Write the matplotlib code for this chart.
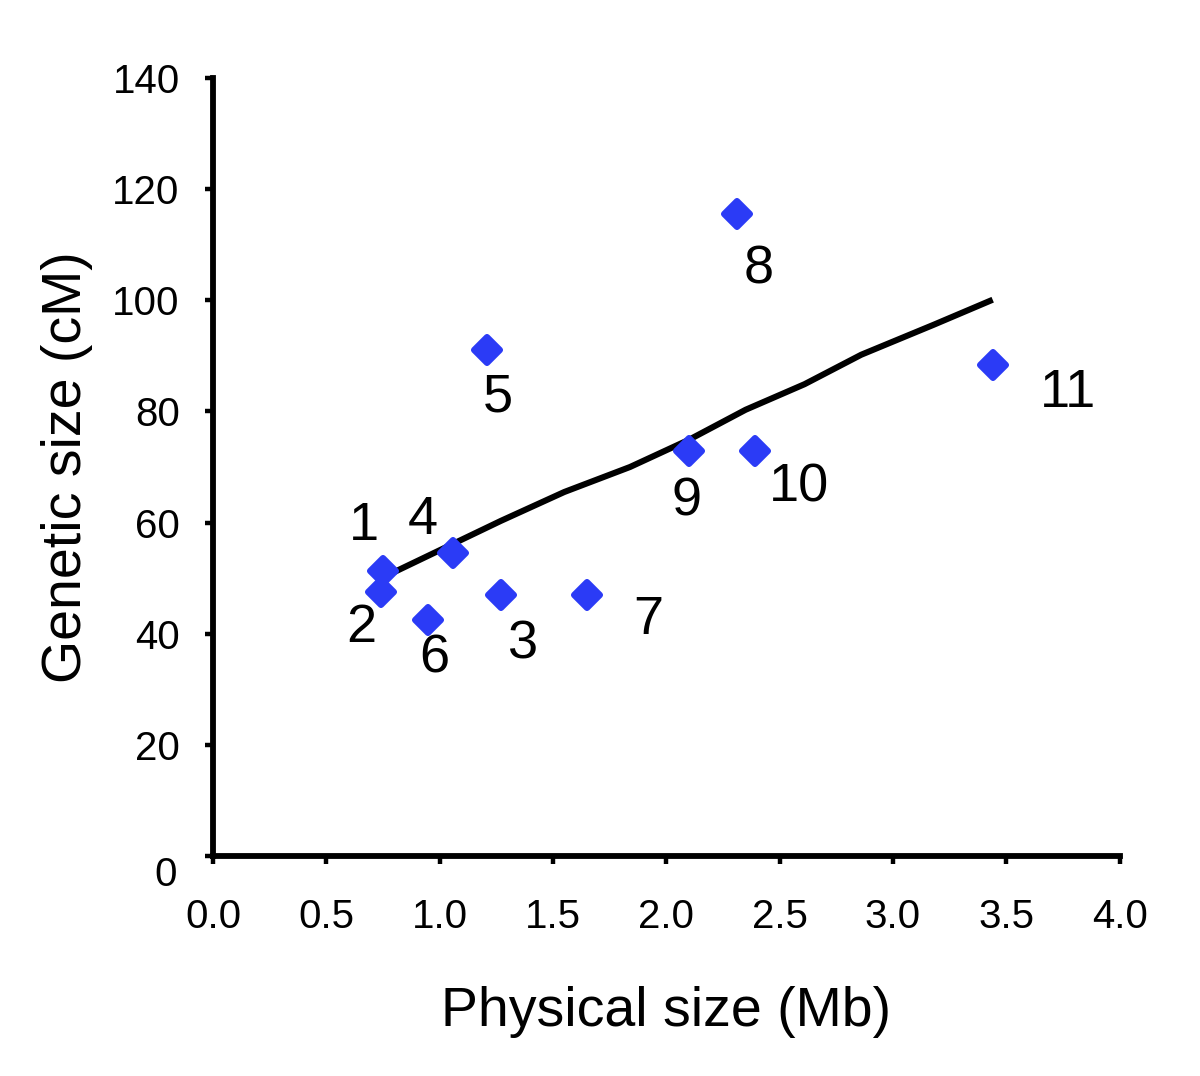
import matplotlib
matplotlib.use("Agg")
import matplotlib.pyplot as plt
from matplotlib.markers import MarkerStyle

plt.rcParams['font.family'] = ['Liberation Sans', 'DejaVu Sans']

# Data
labels = ["1", "2", "3", "4", "5", "6", "7", "8", "9", "10", "11"]
physical_mb = [0.75, 0.74, 1.27, 1.06, 1.21, 0.95, 1.65, 2.31, 2.10, 2.39, 3.44]
genetic_cm = [51.3, 47.5, 47.0, 54.5, 91.0, 42.5, 47.0, 115.5, 72.8, 72.8, 88.3]

trend_x = [0.80, 1.27, 1.55, 1.84, 2.10, 2.35, 2.61, 2.86, 3.18, 3.44]
trend_y = [51.1, 60.3, 65.5, 70.0, 74.9, 80.3, 84.9, 90.2, 95.6, 100.1]

x_ticks = [0.0, 0.5, 1.0, 1.5, 2.0, 2.5, 3.0, 3.5, 4.0]
y_ticks = [0, 20, 40, 60, 80, 100, 120, 140]

# label offsets in points (layout only)
label_offsets = [(-7, 16), (-7, -13), (8, -18), (-11, 12), (4, -17), (2, -14),
                 (22, -9), (8, -20), (-1, -18), (16, -13), (27, -10)]

fig = plt.figure(figsize=(6, 5.38), dpi=200)
ax = fig.add_axes([0.1775, 0.2045, 0.7555, 0.723])

ax.plot(trend_x, trend_y, color='black', lw=2.2, zorder=2, solid_capstyle='butt')
mk = MarkerStyle('D', joinstyle='round')
ax.plot(physical_mb, genetic_cm, linestyle='none', marker=mk, markersize=6.5,
        color='#2B3BF6', markeredgecolor='#2B3BF6', markeredgewidth=2.2,
        zorder=3)

for lab, x, y, off in zip(labels, physical_mb, genetic_cm, label_offsets):
    ax.annotate(lab, (x, y), xytext=off, textcoords='offset points',
                ha='center', va='center', fontsize=19.5)

ax.set_xlim(0, 4)
ax.set_ylim(0, 140)
ax.set_xticks(x_ticks)
ax.set_xticklabels([f"{v:.1f}" for v in x_ticks])
ax.set_yticks(y_ticks)
ax.set_yticklabels([str(v) if v != 0 else "" for v in y_ticks])
ax.annotate("0", (0, 0), xycoords=('axes fraction', 'data'),
            xytext=(-13, -7), textcoords='offset points',
            ha='right', va='center', fontsize=14.5)

for s in ['top', 'right']:
    ax.spines[s].set_visible(False)
for s in ['left', 'bottom']:
    ax.spines[s].set_linewidth(2.1)

ax.tick_params(axis='both', direction='out', length=3, width=1.6, labelsize=14.5)
ax.tick_params(axis='y', pad=9)
ax.tick_params(axis='x', pad=12)

ax.set_xlabel("Physical size (Mb)", fontsize=20, labelpad=18)
ax.set_ylabel("Genetic size (cM)", fontsize=20, labelpad=7)

fig.savefig("out.png", dpi=200)
